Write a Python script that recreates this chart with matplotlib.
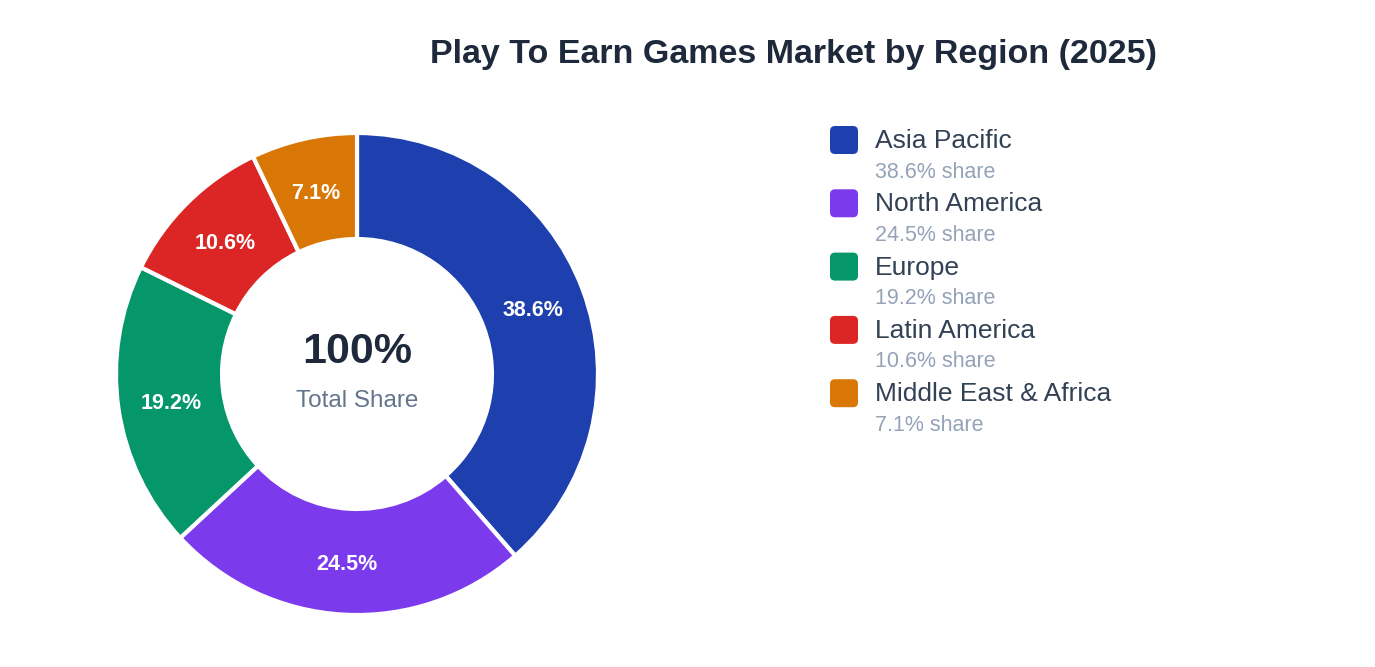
import numpy as np
import matplotlib.pyplot as plt
from matplotlib.patches import FancyBboxPatch

plt.rcParams['font.family'] = ['Liberation Sans', 'DejaVu Sans']

regions = ['Asia Pacific', 'North America', 'Europe', 'Latin America', 'Middle East & Africa']
shares = [38.6, 24.5, 19.2, 10.6, 7.1]
colors = ['#1e40af', '#7c3aed', '#059669', '#dc2626', '#d97706']

W, H = 1375, 667
fig = plt.figure(figsize=(W / 100, H / 100), dpi=100)
fig.patch.set_facecolor('white')

# donut: centre (357, 375), outer radius 241 px
cx, cy, r = 357, 374, 241
ax = fig.add_axes([(cx - r) / W, (H - cy - r) / H, 2 * r / W, 2 * r / H])
wedges, _ = ax.pie(
    shares,
    colors=colors,
    startangle=90,
    counterclock=False,
    radius=1.0,
    wedgeprops=dict(width=0.44, edgecolor='white', linewidth=3),
)
ax.set_xlim(-1, 1)
ax.set_ylim(-1, 1)
ax.set_aspect('equal')
ax.axis('off')

# percentage labels in the middle of the ring
for w, s in zip(wedges, shares):
    ang = np.deg2rad((w.theta1 + w.theta2) / 2)
    ax.text(0.78 * np.cos(ang), 0.78 * np.sin(ang) - 0.012, f'{s}%', ha='center', va='center',
            color='white', fontsize=15.5, fontweight='bold')

ax.text(0, 0.09, '100%', ha='center', va='center', fontsize=31, fontweight='bold', color='#1e293b')
ax.text(0, -0.11, 'Total Share', ha='center', va='center', fontsize=17.5, color='#64748b')

# title
fig.text(794 / W, 1 - 55 / H, 'Play To Earn Games Market by Region (2025)', ha='center', va='center',
         fontsize=24.5, fontweight='bold', color='#1e293b')

# legend in pixel coordinates
lg = fig.add_axes([0, 0, 1, 1])
lg.set_xlim(0, W)
lg.set_ylim(H, 0)
lg.axis('off')
lg.patch.set_alpha(0)
y0, step = 140, 63.3
for i, (name, s, c) in enumerate(zip(regions, shares, colors)):
    y = y0 + i * step
    lg.add_patch(FancyBboxPatch((830, y - 14), 28, 28, boxstyle='round,pad=0,rounding_size=5',
                                facecolor=c, edgecolor='none'))
    lg.text(875, y + 1, name, ha='left', va='center', fontsize=19, color='#334155')
    lg.text(875, y + 32, f'{s}% share', ha='left', va='center', fontsize=15.5, color='#94a3b8')

fig.savefig('out.png', dpi=100, facecolor='white')
